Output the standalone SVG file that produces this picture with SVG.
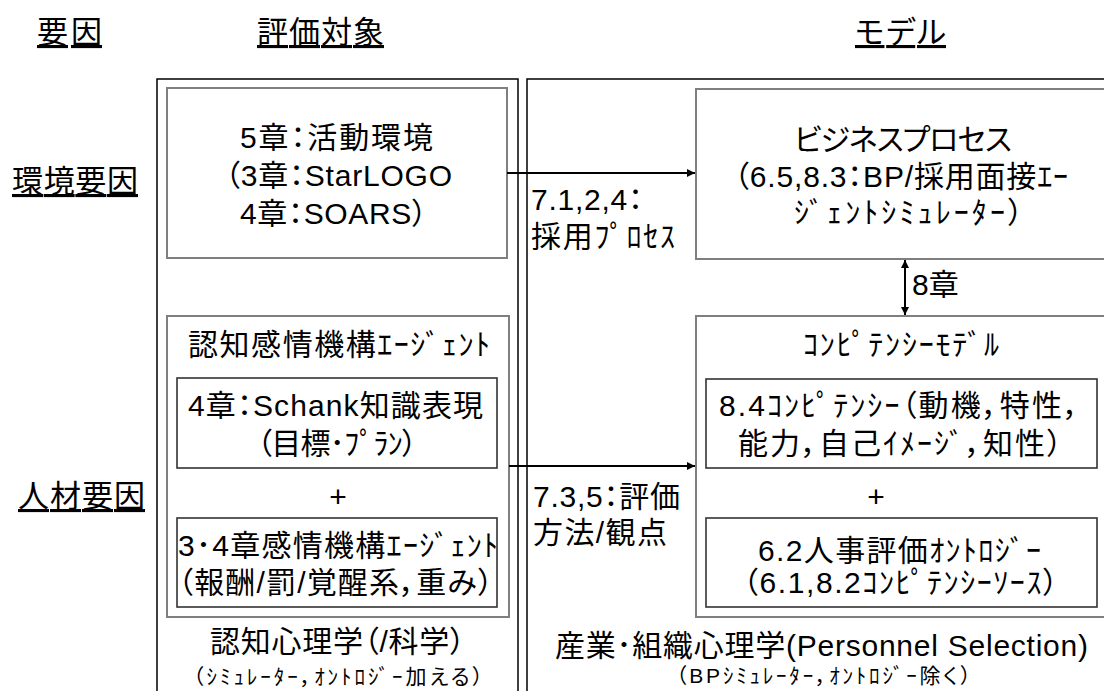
<svg xmlns="http://www.w3.org/2000/svg" width="1104" height="691" viewBox="0 0 1104 691">
<defs>
<marker id="ah" viewBox="0 0 10 10" refX="10" refY="5" markerWidth="8" markerHeight="8" markerUnits="userSpaceOnUse" orient="auto-start-reverse">
<path d="M0,0 L10,5 L0,10 z" fill="#000"/>
</marker>
<style>
text{font-family:"Liberation Sans","Noto Sans CJK JP",sans-serif;fill:#000;font-feature-settings:"palt";}
.h{font-size:31px;text-decoration:underline;}
.t{font-size:30px;}
.s{font-size:21px;}
.c{font-size:30px;text-anchor:middle;}
.col{fill:none;stroke:#000;stroke-width:1.5;}
.box{fill:none;stroke:#7f7f7f;stroke-width:2;}
.inner{fill:none;stroke:#333;stroke-width:1.6;}
.conn{fill:none;stroke:#000;stroke-width:2;}
</style>
</defs>
<rect width="1104" height="691" fill="#fff"/>
<g id="headers">
<text class="h" x="37" y="43" textLength="65">要因</text>
<text class="h" x="257" y="43" textLength="127">評価対象</text>
<text class="h" x="855" y="43" textLength="91">モデル</text>
<text class="h" x="12" y="192" textLength="126">環境要因</text>
<text class="h" x="18" y="507" textLength="127">人材要因</text>
</g>
<g id="columns">
<path class="col" d="M157,700 V79 H518 V700"/>
<path class="col" d="M527,700 V79 H1110"/>
</g>
<g id="env-target">
<rect class="box" x="167" y="88" width="340" height="170"/>
<text class="t" x="240" y="148" textLength="193">5章：活動環境</text>
<text class="t" x="225" y="186" textLength="227">（3章：StarLOGO</text>
<text class="t" x="240" y="224" textLength="187">4章：SOARS）</text>
</g>
<g id="bp-model">
<rect class="box" x="696" y="89" width="420" height="170"/>
<text class="t" x="794" y="150" textLength="218">ビジネスプロセス</text>
<text class="t" x="734" y="187" textLength="334">（6.5,8.3：BP/採用面接ｴｰ</text>
<text class="t" x="794" y="223" textLength="229">ｼﾞｪﾝﾄｼﾐｭﾚｰﾀｰ）</text>
</g>
<g id="agent-target">
<rect class="box" x="167" y="316" width="342" height="301"/>
<text class="t" x="188" y="355" textLength="302">認知感情機構ｴｰｼﾞｪﾝﾄ</text>
<g id="schank">
<rect class="inner" x="177" y="378" width="320" height="90"/>
<text class="t" x="188" y="416" textLength="295">4章：Schank知識表現</text>
<text class="t" x="257" y="454" textLength="160">（目標･ﾌﾟﾗﾝ）</text>
</g>
<text class="c" x="338" y="507">+</text>
<g id="emotion">
<rect class="inner" x="177" y="518" width="320" height="89"/>
<text class="t" x="178" y="556" textLength="320">3･4章感情機構ｴｰｼﾞｪﾝﾄ</text>
<text class="t" x="178" y="593" textLength="315">（報酬/罰/覚醒系，重み）</text>
</g>
</g>
<g id="competency-model">
<rect class="box" x="696" y="316" width="420" height="301"/>
<text class="t" x="803" y="355" textLength="196">ｺﾝﾋﾟﾃﾝｼｰﾓﾃﾞﾙ</text>
<g id="competency">
<rect class="inner" x="706" y="379" width="391" height="89"/>
<text class="t" x="719" y="416" textLength="360">8.4ｺﾝﾋﾟﾃﾝｼｰ（動機，特性，</text>
<text class="t" x="738" y="454" textLength="324">能力，自己ｲﾒｰｼﾞ，知性）</text>
</g>
<text class="c" x="876" y="507">+</text>
<g id="ontology">
<rect class="inner" x="706" y="518" width="391" height="89"/>
<text class="t" x="758" y="561" textLength="283">6.2人事評価ｵﾝﾄﾛｼﾞｰ</text>
<text class="t" x="743" y="593" textLength="315">（6.1,8.2ｺﾝﾋﾟﾃﾝｼｰｿｰｽ）</text>
</g>
</g>
<g id="footers">
<text class="t" x="210" y="652" textLength="255">認知心理学（/科学）</text>
<text class="s" x="193" y="684" textLength="290">（ｼﾐｭﾚｰﾀｰ，ｵﾝﾄﾛｼﾞｰ加える）</text>
<text class="t" x="555" y="656" textLength="533">産業･組織心理学(Personnel Selection)</text>
<text class="s" x="676" y="683" textLength="295">（BPｼﾐｭﾚｰﾀｰ，ｵﾝﾄﾛｼﾞｰ除く）</text>
</g>
<g id="connectors">
<line class="conn" x1="507" y1="173" x2="695" y2="173" marker-end="url(#ah)"/>
<line class="conn" x1="509" y1="466" x2="695" y2="466" marker-end="url(#ah)"/>
<line class="conn" x1="905" y1="260" x2="905" y2="315" marker-start="url(#ah)" marker-end="url(#ah)"/>
<text class="t" x="531" y="210" textLength="112">7.1,2,4：</text>
<text class="t" x="531" y="247" textLength="144">採用ﾌﾟﾛｾｽ</text>
<text class="t" x="912" y="295">8章</text>
<text class="t" x="533" y="507" textLength="147">7.3,5：評価</text>
<text class="t" x="533" y="543" textLength="134">方法/観点</text>
</g>
</svg>
